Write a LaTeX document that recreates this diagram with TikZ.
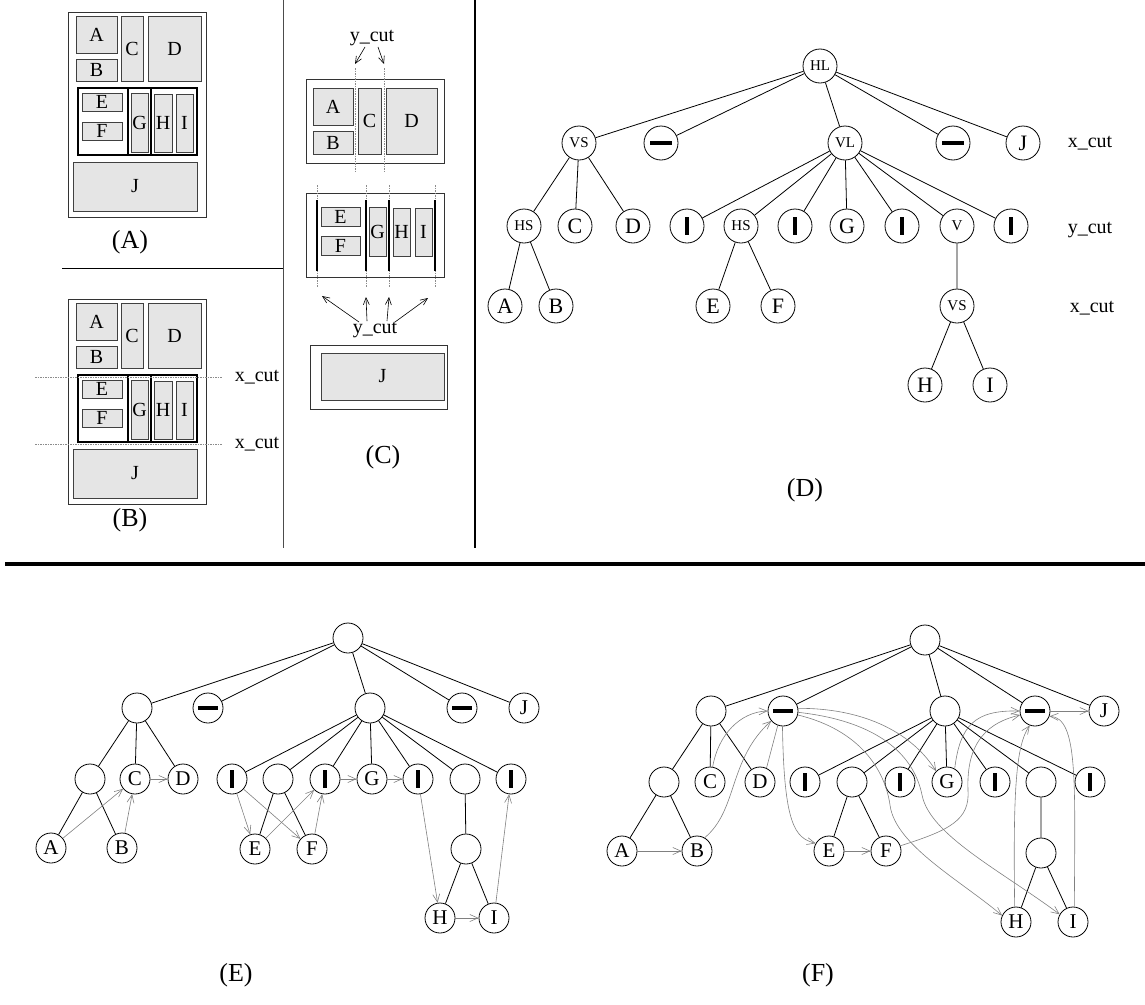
\documentclass[tikz,border=0pt]{standalone}
\usepackage{fontspec}
\setmainfont{Liberation Serif}
\usetikzlibrary{arrows.meta}

% slab layout of a page: blocks A..J inside a frame, prefix #1 names the nodes
\newcommand{\pageslabs}[1]{%
  \draw[frame] (68,12) rectangle (206,217);
  \node[cell, minimum width=41pt, minimum height=37pt] (#1A) at (96.5,34.5) {A};
  \node[cell, minimum width=41pt, minimum height=22pt] (#1B) at (96.5,70) {B};
  \node[cell, minimum width=22pt, minimum height=65pt] (#1C) at (132,48.5) {C};
  \node[cell, minimum width=53pt, minimum height=65pt] (#1D) at (174.5,48.5) {D};
  \draw[boldframe] (78,88) rectangle (197,155);
  \draw[boldframe] (128,88) -- (128,155) (151,88) -- (151,155);
  \node[cell, minimum width=40pt, minimum height=18pt] (#1E) at (102,102) {E};
  \node[cell, minimum width=40pt, minimum height=18pt] (#1F) at (102,131) {F};
  \node[cell, minimum width=17pt, minimum height=59pt] (#1G) at (139.5,122.5) {G};
  \node[cell, minimum width=18pt, minimum height=58pt] (#1H) at (163,123) {H};
  \node[cell, minimum width=17pt, minimum height=58pt] (#1I) at (184.5,123) {I};
  \node[cell, minimum width=124pt, minimum height=49pt] (#1J) at (135,186.5) {J};
}

\begin{document}
\begin{tikzpicture}[x=1pt,y=-1pt,
  frame/.style={draw=black!80, line width=0.8pt},
  boldframe/.style={draw=black, line width=1.6pt},
  cell/.style={draw=black!75, fill=black!10, line width=0.7pt, inner sep=0pt,
    font=\fontsize{20}{20}\selectfont},
  cutline/.style={draw=black!45, line width=0.6pt, dash pattern=on 1.5pt off 1pt},
  cutlabel/.style={font=\fontsize{20}{20}\selectfont, inner sep=1pt},
  caption/.style={font=\fontsize{26}{26}\selectfont},
  treenode/.style={circle, draw, line width=0.8pt, minimum size=34pt, inner sep=0pt,
    font=\fontsize{22}{22}\selectfont},
  opnode/.style={treenode, font=\fontsize{15}{15}\selectfont},
  smallnode/.style={treenode, minimum size=30pt, font=\fontsize{21}{21}\selectfont},
  hbarD/.style={treenode, path picture={\fill ([shift={(-11pt,-2pt)}]path picture bounding box.center) rectangle ([shift={(11pt,2pt)}]path picture bounding box.center);}},
  vbarD/.style={treenode, path picture={\fill ([shift={(-2pt,-9pt)}]path picture bounding box.center) rectangle ([shift={(2pt,9pt)}]path picture bounding box.center);}},
  hbarS/.style={smallnode, path picture={\fill ([shift={(-10pt,-2pt)}]path picture bounding box.center) rectangle ([shift={(10pt,2pt)}]path picture bounding box.center);}},
  vbarS/.style={smallnode, path picture={\fill ([shift={(-2pt,-9pt)}]path picture bounding box.center) rectangle ([shift={(2pt,9pt)}]path picture bounding box.center);}},
  treeedge/.style={line width=0.8pt},
  link/.style={draw=black!50, line width=0.6pt, -{Straight Barb[length=8pt,width=7pt]}},
  plainlink/.style={draw=black!50, line width=0.6pt},
  cutarrow/.style={line width=0.6pt, -{Straight Barb[length=7pt,width=6pt]}},
]
\useasboundingbox (0,0) rectangle (1145,1004);

% ---------- panel separators ----------
\draw[line width=0.8pt, black!70] (283,0) -- (283,548);
\draw[line width=1.2pt] (475,0) -- (475,548);
\draw[line width=0.8pt] (62,268) -- (283,268);
\draw[line width=4pt] (5,564) -- (1145,564);

% ---------- (A) ----------
\pageslabs{a}
\node[caption] (capA) at (130,242) {(A)};

% ---------- (B) ----------
\begin{scope}[shift={(0,287)}]
  \pageslabs{b}
\end{scope}
\draw[cutline] (35,377) -- (222,377);
\draw[cutline] (35,444) -- (222,444);
\node[cutlabel] (bx1) at (257,377) {x\_cut};
\node[cutlabel] (bx2) at (257,444) {x\_cut};
\node[caption] (capB) at (130,520) {(B)};

% ---------- (C) ----------
% top slab
\draw[frame] (306,79) rectangle (444,163);
\node[cell, minimum width=40pt, minimum height=37pt] (cA) at (333,106.5) {A};
\node[cell, minimum width=40pt, minimum height=23pt] (cB) at (333,142.5) {B};
\node[cell, minimum width=23pt, minimum height=66pt] (cC) at (369.5,121) {C};
\node[cell, minimum width=51pt, minimum height=66pt] (cD) at (411.5,121) {D};
\draw[cutline] (355,68) -- (355,171);
\draw[cutline] (384,68) -- (384,171);
\node[cutlabel] (cyt) at (372,38) {y\_cut};
\coordinate (ct1) at (355,64);
\coordinate (ct2) at (384,64);
\draw[cutarrow] ([xshift=-7pt]cyt.south) -- (ct1);
\draw[cutarrow] ([xshift=6pt]cyt.south) -- (ct2);
% middle slab
\draw[frame] (306,193) rectangle (444,277);
\node[cell, minimum width=39pt, minimum height=19pt] (cE) at (340.5,216.5) {E};
\node[cell, minimum width=39pt, minimum height=19pt] (cF) at (340.5,245.5) {F};
\node[cell, minimum width=17pt, minimum height=49pt] (cG) at (377.5,231.5) {G};
\node[cell, minimum width=17pt, minimum height=48pt] (cH) at (401.5,232) {H};
\node[cell, minimum width=17pt, minimum height=48pt] (cI) at (423.5,232) {I};
\foreach \xc in {317,366,389,435} {
  \draw[cutline] (\xc,185) -- (\xc,287);
  \draw[boldframe] (\xc,200) -- (\xc,271);
}
\node[cutlabel] (cyb) at (375,330) {y\_cut};
\coordinate (cb1) at (322,296);
\coordinate (cb2) at (366,297);
\coordinate (cb3) at (389,297);
\coordinate (cb4) at (428,298);
\draw[cutarrow] ([xshift=-16pt,yshift=-1pt]cyb.north) -- (cb1);
\draw[cutarrow] ([xshift=-8pt]cyb.north) -- (cb2);
\draw[cutarrow] ([xshift=12pt]cyb.north) -- (cb3);
\draw[cutarrow] ([xshift=20pt,yshift=-1pt]cyb.north) -- (cb4);
% bottom slab
\draw[frame] (310,345) rectangle (447,409);
\node[cell, minimum width=123pt, minimum height=47pt] (cJ) at (382.5,376.5) {J};
\node[caption] (capC) at (383,457) {(C)};

% ---------- (D) layout tree ----------
\node[opnode] (dHL) at (820,66) {HL};
\node[opnode] (dVS) at (579,143) {VS};
\node[hbarD] (dh1) at (661,143) {};
\node[opnode] (dVL) at (845,143) {VL};
\node[hbarD] (dh2) at (953,143) {};
\node[treenode] (dJ) at (1023,143) {J};
\node[opnode] (dHS) at (524,226) {HS};
\node[treenode] (dC) at (575,226) {C};
\node[treenode] (dD) at (633,226) {D};
\node[vbarD] (dv1) at (687,226) {};
\node[opnode] (dHS2) at (741,226) {HS};
\node[vbarD] (dv2) at (795,226) {};
\node[treenode] (dG) at (847,226) {G};
\node[vbarD] (dv3) at (902,226) {};
\node[opnode] (dV) at (957,226) {V};
\node[vbarD] (dv4) at (1011,226) {};
\node[treenode] (dA) at (505,306) {A};
\node[treenode] (dB) at (556,306) {B};
\node[treenode] (dE) at (713,306) {E};
\node[treenode] (dF) at (778,306) {F};
\node[opnode] (dVS2) at (957,306) {VS};
\node[treenode] (dH) at (925,385) {H};
\node[treenode] (dI) at (990,385) {I};
\node[cutlabel] (dx1) at (1090,143) {x\_cut};
\node[cutlabel] (dy1) at (1090,230) {y\_cut};
\node[cutlabel] (dx2) at (1092,308) {x\_cut};
\draw[treeedge] (dHL) -- (dVS) (dHL) -- (dh1) (dHL) -- (dVL) (dHL) -- (dh2) (dHL) -- (dJ)
  (dVS) -- (dHS) (dVS) -- (dC) (dVS) -- (dD) (dHS) -- (dA) (dHS) -- (dB)
  (dVL) -- (dv1) (dVL) -- (dHS2) (dVL) -- (dv2) (dVL) -- (dG) (dVL) -- (dv3)
  (dVL) -- (dV) (dVL) -- (dv4) (dHS2) -- (dE) (dHS2) -- (dF)
  (dV) -- (dVS2) (dVS2) -- (dH) (dVS2) -- (dI);
\node[caption] (capD) at (805,490) {(D)};

% ---------- (E) tree with sibling links ----------
\node[smallnode] (eR) at (348,638) {};
\node[smallnode] (eN) at (137,708) {};
\node[hbarS] (eh1) at (208,708) {};
\node[smallnode] (eVL) at (370,708) {};
\node[hbarS] (eh2) at (462,708) {};
\node[smallnode] (eJ) at (524,708) {J};
\node[smallnode] (eHS) at (90,779) {};
\node[smallnode] (eC) at (135,779) {C};
\node[smallnode] (eD) at (183,779) {D};
\node[vbarS] (ev1) at (232,779) {};
\node[smallnode] (eHS2) at (278,779) {};
\node[vbarS] (ev2) at (325,779) {};
\node[smallnode] (eG) at (372,779) {G};
\node[vbarS] (ev3) at (418,779) {};
\node[smallnode] (eV) at (465,779) {};
\node[vbarS] (ev4) at (511,779) {};
\node[smallnode] (eA) at (51,848) {A};
\node[smallnode] (eB) at (122,848) {B};
\node[smallnode] (eE) at (255,849) {E};
\node[smallnode] (eF) at (312,849) {F};
\node[smallnode] (eVS) at (466,849) {};
\node[smallnode] (eH) at (440,918) {H};
\node[smallnode] (eI) at (494,918) {I};
\draw[treeedge] (eR) -- (eN) (eR) -- (eh1) (eR) -- (eVL) (eR) -- (eh2) (eR) -- (eJ)
  (eN) -- (eHS) (eN) -- (eC) (eN) -- (eD) (eHS) -- (eA) (eHS) -- (eB)
  (eVL) -- (ev1) (eVL) -- (eHS2) (eVL) -- (ev2) (eVL) -- (eG) (eVL) -- (ev3)
  (eVL) -- (eV) (eVL) -- (ev4) (eHS2) -- (eE) (eHS2) -- (eF)
  (eV) -- (eVS) (eVS) -- (eH) (eVS) -- (eI);
\draw[link] (eA) -- (eC);
\draw[link] (eB) -- (eC);
\draw[link] (eC) -- (eD);
\draw[link] (ev1) -- (eE);
\draw[link] (ev1) -- (eF);
\draw[link] (eE) -- (ev2);
\draw[link] (eF) -- (ev2);
\draw[link] (ev2) -- (eG);
\draw[link] (eG) -- (ev3);
\draw[link] (ev3) -- (eH);
\draw[link] (eH) -- (eI);
\draw[link] (eI) -- (ev4);
\node[caption] (capE) at (236,975) {(E)};

% ---------- (F) tree with reading-order links ----------
\node[smallnode] (fR) at (925,640) {};
\node[smallnode] (fN) at (711,711) {};
\node[hbarS] (fh1) at (783,711) {};
\node[smallnode] (fVL) at (945,711) {};
\node[hbarS] (fh2) at (1035,711) {};
\node[smallnode] (fJ) at (1104,711) {J};
\node[smallnode] (fHS) at (664,782) {};
\node[smallnode] (fC) at (710,782) {C};
\node[smallnode] (fD) at (760,782) {D};
\node[vbarS] (fv1) at (805,782) {};
\node[smallnode] (fHS2) at (852,782) {};
\node[vbarS] (fv2) at (900,782) {};
\node[smallnode] (fG) at (947,782) {G};
\node[vbarS] (fv3) at (995,782) {};
\node[smallnode] (fV) at (1041,782) {};
\node[vbarS] (fv4) at (1090,782) {};
\node[smallnode] (fA) at (622,851) {A};
\node[smallnode] (fB) at (697,851) {B};
\node[smallnode] (fE) at (829,851) {E};
\node[smallnode] (fF) at (886,851) {F};
\node[smallnode] (fVS) at (1041,853) {};
\node[smallnode] (fH) at (1016,922) {H};
\node[smallnode] (fI) at (1073,922) {I};
\draw[treeedge] (fR) -- (fN) (fR) -- (fh1) (fR) -- (fVL) (fR) -- (fh2) (fR) -- (fJ)
  (fN) -- (fHS) (fN) -- (fC) (fN) -- (fD) (fHS) -- (fA) (fHS) -- (fB)
  (fVL) -- (fv1) (fVL) -- (fHS2) (fVL) -- (fv2) (fVL) -- (fG) (fVL) -- (fv3)
  (fVL) -- (fV) (fVL) -- (fv4) (fHS2) -- (fE) (fHS2) -- (fF)
  (fV) -- (fVS) (fVS) -- (fH) (fVS) -- (fI);
\draw[link] (fA) -- (fB);
\draw[link] (fB.60) .. controls (738,810) and (728,760) .. (fh1.220);
\draw[link] (fC.80) .. controls (718,735) and (740,712) .. (fh1.180);
\draw[plainlink] (fD.65) -- (fh1.250);
\draw[link] (fh1.268) .. controls (784,825) and (795,838) .. (fE.150);
\draw[link] (fE) -- (fF);
\draw[link] (fF.20) .. controls (950,830) and (970,820) .. (968,790)
  .. controls (966,740) and (990,722) .. (fh2.195);
\draw[link] (fG.60) .. controls (960,725) and (975,710) .. (fh2.180);
\draw[link] (fh2) -- (fJ);
\draw[link] (fH.95) .. controls (1013,790) and (1016,745) .. (fh2.250);
\draw[link] (fI.85) .. controls (1075,780) and (1078,718) .. (fh2.340);
\draw[link] (fh1.10) .. controls (860,708) and (910,730) .. (fG.135);
\draw[link] (fh1.345) .. controls (860,730) and (885,770) .. (890,805)
  .. controls (895,845) and (960,880) .. (fH.155);
\draw[link] (fh1.355) .. controls (885,722) and (915,760) .. (922,795)
  .. controls (930,835) and (1000,870) .. (fI.150);
\node[caption] (capF) at (818,975) {(F)};

\end{tikzpicture}
\end{document}
